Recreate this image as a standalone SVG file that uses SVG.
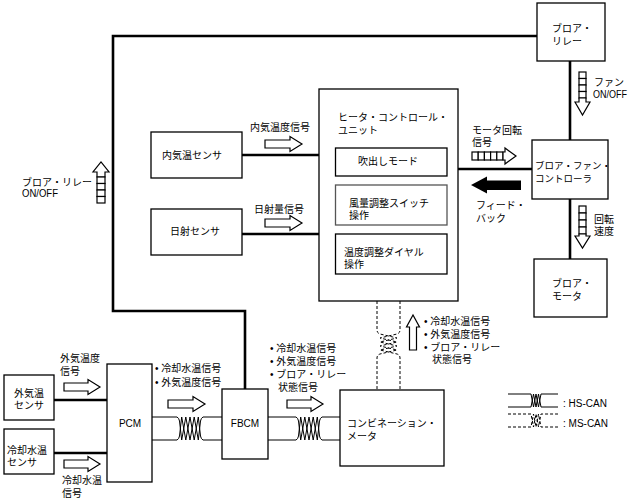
<svg xmlns="http://www.w3.org/2000/svg" width="634" height="504" viewBox="0 0 634 504">
<style>
.box{fill:#fff;stroke:#000;stroke-width:1.3}
.bus{fill:none;stroke:#000;stroke-width:2.6}
.can{fill:none;stroke:#000;stroke-width:1}
.ms{stroke-dasharray:3,2}
.arr{fill:#fff;stroke:#000;stroke-width:1.2}
.sq{fill:#fff;stroke:#000;stroke-width:1.2}
text{font-family:"Liberation Sans","Noto Sans CJK JP",sans-serif;font-size:10px;fill:#000}
.sm{font-size:9.5px}
.mid{text-anchor:middle}
</style>
<rect width="634" height="504" fill="#fff"/>
<g id="connectors">
<path class="bus" d="M537 36H113V311H245V389"/>
<path class="bus" d="M570 61V140"/>
<path class="bus" d="M570 199V259"/>
<path class="bus" d="M458 169H532"/>
<path class="bus" d="M242 155H319"/>
<path class="bus" d="M242 234H319"/>
<path class="bus" d="M54 400H107"/>
<path class="bus" d="M54 453H107"/>
<!-- HS-CAN PCM-FBCM -->
<path class="can" d="M152 417H177Q179 418 179.5 421L181.7 440L185.8 417L190 440L194.2 417L198.3 440L200.5 421Q201 418 203 417H222"/>
<path class="can" d="M152 440H177Q179 439 179.5 436L181.7 417L185.8 440L190 417L194.2 440L198.3 417L200.5 436Q201 439 203 440H222"/>
<!-- HS-CAN FBCM-CM -->
<path class="can" d="M268 417H296Q298 418 298.5 421L300.7 440L304.8 417L309 440L313.2 417L317.3 440L319.5 421Q320 418 322 417H340"/>
<path class="can" d="M268 440H296Q298 439 298.5 436L300.7 417L304.8 440L309 417L313.2 440L317.3 417L319.5 436Q320 439 322 440H340"/>
<!-- MS-CAN HCU-CM -->
<path class="can ms" d="M377 301V330Q377 333 380 334L397 338L380 342L397 346L380 350L397 354Q400 355 400 358V390"/>
<path class="can ms" d="M400 301V330Q400 333 397 334L380 338L397 342L380 346L397 350L380 354Q377 355 377 358V390"/>
<!-- legend -->
<path class="can" d="M508 394H531L533.5 407L536 394L538.5 407L541 394H558"/>
<path class="can" d="M508 407H531L533.5 394L536 407L538.5 394L541 407H558"/>
<path class="can ms" d="M508 414H531L533.5 427L536 414L538.5 427L541 414H558"/>
<path class="can ms" d="M508 427H531L533.5 414L536 427L538.5 414L541 427H558"/>
<!-- signal arrows -->
<polygon class="arr" points="265,140 290,140 290,136.5 302,144 290,151.5 290,148 265,148"/>
<polygon class="arr" points="265,219 290,219 290,215.5 302,223 290,230.5 290,227 265,227"/>
<polygon class="arr" points="64,383 88,383 88,379.5 100,387 88,394.5 88,391 64,391"/>
<polygon class="arr" points="64,460 88,460 88,456.5 100,464 88,471.5 88,468 64,468"/>
<polygon class="arr" points="168,400 193,400 193,396.5 205,404 193,411.5 193,408 168,408"/>
<polygon class="arr" points="287,400 311,400 311,396.5 323,404 311,411.5 311,408 287,408"/>
<polygon class="arr" points="409.5,350 409.5,327 406.5,327 413,315 419.5,327 416.5,327 416.5,350"/>
<polygon fill="#000" points="471,185 487,176.5 487,180.5 521,180.5 521,190 487,190 487,193.5"/>
<!-- blower relay on/off (up) -->
<polygon class="arr" points="97,177 97,172 93,172 101,162 109,172 105,172 105,177"/>
<rect class="sq" x="97" y="177" width="8" height="6.5"/>
<rect class="sq" x="97" y="183.5" width="8" height="6.5"/>
<rect class="sq" x="97" y="190" width="8" height="6.5"/>
<rect class="sq" x="97" y="196.5" width="8" height="6.5"/>
<!-- fan on/off (down) -->
<rect class="sq" x="579" y="72" width="7" height="6.5"/>
<rect class="sq" x="579" y="78.5" width="7" height="6.5"/>
<rect class="sq" x="579" y="85" width="7" height="6.5"/>
<rect class="sq" x="579" y="91.5" width="7" height="6.5"/>
<polygon class="arr" points="579,98 579,102 575,102 582.5,115 590,102 586,102 586,98"/>
<!-- rotation speed (down) -->
<rect class="sq" x="579" y="206" width="7" height="7"/>
<rect class="sq" x="579" y="213" width="7" height="7"/>
<rect class="sq" x="579" y="220" width="7" height="7"/>
<rect class="sq" x="579" y="227" width="7" height="7"/>
<polygon class="arr" points="579,234 579,236 575,236 582.5,248 590,236 586,236 586,234"/>
<!-- motor rotation signal (right) -->
<rect class="sq" x="472" y="152" width="6.2" height="8"/>
<rect class="sq" x="478.2" y="152" width="6.2" height="8"/>
<rect class="sq" x="484.4" y="152" width="6.2" height="8"/>
<rect class="sq" x="490.6" y="152" width="6.2" height="8"/>
<rect class="sq" x="496.8" y="152" width="6.2" height="8"/>
<polygon class="arr" points="503,152 505,152 505,148 516,156 505,164 505,160 503,160"/>
</g>
<g id="blower-relay"><rect class="box" x="537" y="3" width="68" height="58"/><text x="552" y="32">ブロア・</text><text x="552" y="45">リレー</text></g>
<g id="blower-fan-controller"><rect class="box" x="532" y="140" width="76" height="59"/><text class="sm" x="535" y="169">ブロア・ファン・</text><text class="sm" x="535" y="182">コントローラ</text></g>
<g id="blower-motor"><rect class="box" x="534" y="259" width="73" height="58"/><text x="552" y="287">ブロア・</text><text x="552" y="300">モータ</text></g>
<g id="heater-control-unit"><rect class="box" x="319" y="89" width="139" height="212"/><text x="338" y="121">ヒータ・コントロール・</text><text x="338" y="134">ユニット</text>
<rect class="box" x="335.5" y="148" width="111.5" height="28"/><text x="358" y="165">吹出しモード</text>
<rect class="box" x="335.5" y="185" width="111.5" height="40" style="stroke:#555"/><text x="349" y="207">風量調整スイッチ</text><text x="349" y="219">操作</text>
<rect class="box" x="335.5" y="234" width="111.5" height="40"/><text x="344" y="256">温度調整ダイヤル</text><text x="344" y="268">操作</text></g>
<g id="cabin-temp-sensor"><rect class="box" x="151" y="132" width="91" height="46"/><text x="162" y="159">内気温センサ</text></g>
<g id="sunload-sensor"><rect class="box" x="151" y="209" width="91" height="46"/><text x="170" y="235">日射センサ</text></g>
<g id="combination-meter"><rect class="box" x="340" y="390" width="104" height="76"/><text x="347" y="427">コンビネーション・</text><text x="347" y="440">メータ</text></g>
<g id="pcm"><rect class="box" x="107" y="364" width="45" height="118"/><text class="mid" x="130" y="427">PCM</text></g>
<g id="fbcm"><rect class="box" x="222" y="389" width="46" height="70"/><text class="mid" x="245" y="427">FBCM</text></g>
<g id="ambient-sensor"><rect class="box" x="4" y="375" width="50" height="45"/><text x="14" y="397">外気温</text><text x="14" y="409">センサ</text></g>
<g id="coolant-sensor"><rect class="box" x="4" y="429" width="50" height="45"/><text x="7" y="454">冷却水温</text><text x="7" y="466">センサ</text></g>
<g id="labels">
<text x="250" y="131">内気温度信号</text>
<text x="254" y="213">日射量信号</text>
<text x="22" y="186">ブロア・リレー</text>
<text x="22" y="197" textLength="36" lengthAdjust="spacingAndGlyphs">ON/OFF</text>
<text x="594" y="86">ファン</text>
<text x="593" y="98" textLength="34" lengthAdjust="spacingAndGlyphs">ON/OFF</text>
<text x="472" y="134">モータ回転</text>
<text x="472" y="146">信号</text>
<text x="476" y="209">フィード・</text>
<text x="476" y="222">バック</text>
<text x="594" y="223">回転</text>
<text x="594" y="235">速度</text>
<text x="424" y="325">• 冷却水温信号</text>
<text x="424" y="338">• 外気温度信号</text>
<text x="424" y="351">• ブロア・リレー</text>
<text x="432" y="363">状態信号</text>
<text x="563" y="407">: HS-CAN</text>
<text x="563" y="427">: MS-CAN</text>
<text x="60" y="362">外気温度</text>
<text x="60" y="375">信号</text>
<text x="62" y="484">冷却水温</text>
<text x="62" y="497">信号</text>
<text x="155" y="372">• 冷却水温信号</text>
<text x="155" y="386">• 外気温度信号</text>
<text x="270" y="352">• 冷却水温信号</text>
<text x="270" y="365">• 外気温度信号</text>
<text x="270" y="378">• ブロア・リレー</text>
<text x="278" y="391">状態信号</text>
</g>
</svg>
